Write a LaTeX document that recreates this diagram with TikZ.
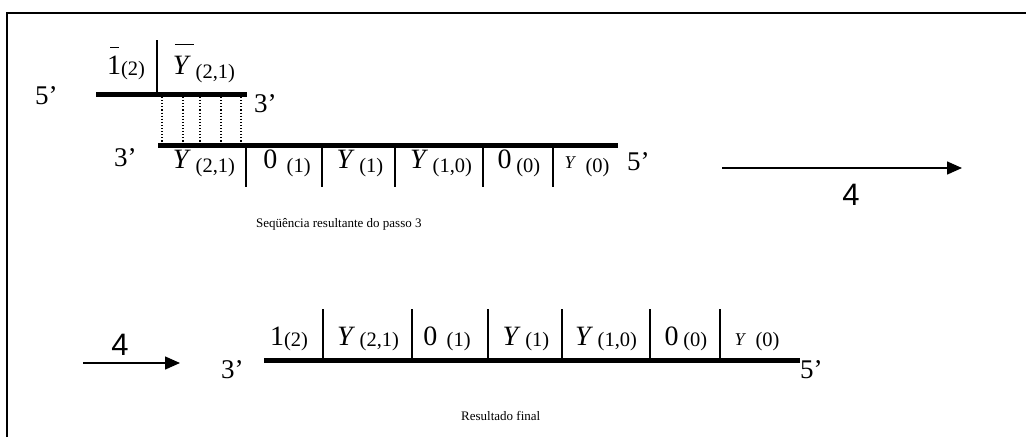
\documentclass[tikz,border=0pt]{standalone}
\usepackage{fontspec}
\setmainfont{Liberation Serif}
\newfontfamily\sansf{Liberation Sans}
\usetikzlibrary{arrows.meta}
\newcommand{\subx}[1]{{\fontsize{20.5}{21}\selectfont\raisebox{-4pt}{(#1)}}}
\newcommand{\suby}[1]{{\fontsize{20.5}{21}\selectfont\raisebox{-1pt}{(#1)}}}
\newcommand{\Yi}{\textit{Y}}
\newcommand{\overbarx}[3]{\makebox[0pt][l]{\hspace{#1}\rule[#2]{#3}{1.3pt}}}
\begin{document}
\begin{tikzpicture}[x=1pt,y=-1pt,
  strand/.style={line width=5pt},
  sep/.style={line width=1.4pt},
  dots/.style={dotted,line width=1.1pt},
  lab/.style={anchor=base,inner sep=0pt,font=\fontsize{28}{30}\selectfont},
  endlab/.style={anchor=base west,inner sep=0pt,font=\fontsize{27}{30}\selectfont},
  caption/.style={anchor=base west,inner sep=0pt,font=\fontsize{13}{15}\selectfont},
  num/.style={anchor=base,inner sep=0pt,font=\sansf\fontsize{31}{34}\selectfont},
  arr/.style={line width=1.5pt,-{Triangle[length=15pt,width=13pt]}}]
\useasboundingbox (0,0) rectangle (1026,437);
\draw[line width=2pt] (7,437) -- (7,13) -- (1026,13);

% ---- top short strand
\coordinate (t1) at (96,94);
\coordinate (t2) at (247,94);
\draw[strand] (t1) -- (t2);
\node[endlab] (t5) at (35,104) {5’};
\node[endlab] (t3) at (254,112) {3’};
\coordinate (ts1) at (157,40);
\coordinate (ts2) at (157,92);
\draw[sep] (ts1) -- (ts2);
\node[lab] (tl1) at (126,74) {\overbarx{3pt}{26pt}{9pt}1\suby{2}};
\node[lab] (tl2) at (204,74) {\overbarx{2pt}{29pt}{19pt}\Yi\,\subx{2,1}};

% ---- dotted pairing
\foreach \x [count=\i] in {162,183,200,221,241}{
  \coordinate (da\i) at (\x,97);
  \coordinate (db\i) at (\x,143);
  \draw[dots] (da\i) -- (db\i);
}

% ---- middle long strand
\coordinate (m1) at (158,145);
\coordinate (m2) at (618,145);
\draw[strand] (m1) -- (m2);
\node[endlab] (m3) at (114,166) {3’};
\node[endlab] (m5) at (627,170) {5’};
\foreach \x [count=\i] in {246,322,395,483,553}{
  \coordinate (ma\i) at (\x,147.5);
  \coordinate (mb\i) at (\x,187);
  \draw[sep] (ma\i) -- (mb\i);
}
\node[lab] (ml1) at (204,168) {\Yi\,\subx{2,1}};
\node[lab] (ml2) at (287,168) {0\,\,\subx{1}};
\node[lab] (ml3) at (360,168) {\Yi\,\subx{1}};
\node[lab] (ml4) at (441,168) {\Yi\,\subx{1,0}};
\node[lab] (ml5) at (519,168) {0\,\subx{0}};
\node[lab] (ml6) at (587,168) {{\fontsize{18}{20}\selectfont\Yi}\,\,\subx{0}};
\node[caption] (cap1) at (256,227) {Seqüência resultante do passo 3};

% ---- arrow 1
\coordinate (a1s) at (722,168);
\coordinate (a1e) at (962,168);
\draw[arr] (a1s) -- (a1e);
\node[num] (n1) at (851,205) {4};

% ---- arrow 2
\coordinate (a2s) at (83,363);
\coordinate (a2e) at (180,363);
\draw[arr] (a2s) -- (a2e);
\node[num] (n2) at (120,355) {4};

% ---- final strand
\coordinate (f1) at (264,360);
\coordinate (f2) at (800,360);
\draw[strand] (f1) -- (f2);
\node[endlab] (f3) at (221,378) {3’};
\node[endlab] (f5) at (800,378) {5’};
\foreach \x [count=\i] in {323,412,488,562,650,720}{
  \coordinate (fa\i) at (\x,309);
  \coordinate (fb\i) at (\x,357.5);
  \draw[sep] (fa\i) -- (fb\i);
}
\node[lab] (fl1) at (289,345) {1\suby{2}};
\node[lab] (fl2) at (368,345) {\Yi\,\suby{2,1}};
\node[lab] (fl3) at (447,345) {0\,\,\suby{1}};
\node[lab] (fl4) at (526,345) {\Yi\,\suby{1}};
\node[lab] (fl5) at (606,345) {\Yi\,\suby{1,0}};
\node[lab] (fl6) at (686,345) {0\,\suby{0}};
\node[lab] (fl7) at (757,345) {{\fontsize{18}{20}\selectfont\Yi}\,\,\suby{0}};
\node[caption] (cap2) at (461,420) {Resultado final};
\end{tikzpicture}
\end{document}
